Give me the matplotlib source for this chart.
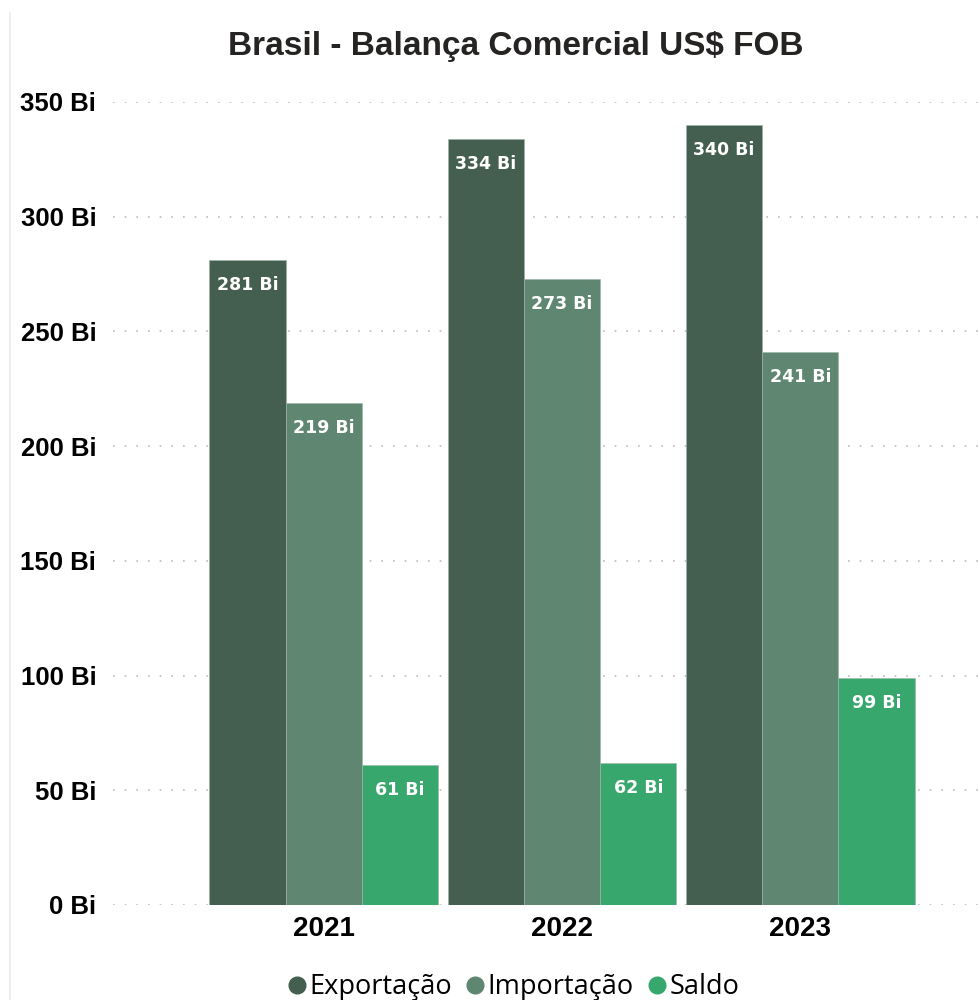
import matplotlib
matplotlib.use("Agg")
import matplotlib.pyplot as plt
import numpy as np
from matplotlib.lines import Line2D

years = ["2021", "2022", "2023"]
series_names = ["Exportação", "Importação", "Saldo"]
exportacao = [281, 334, 340]
importacao = [219, 273, 241]
saldo = [61, 62, 99]
yticks = [0, 50, 100, 150, 200, 250, 300, 350]
colors = ["#445F50", "#5E8670", "#38A76D"]

fig = plt.figure(figsize=(9.79, 10), dpi=100)
ax = fig.add_axes([113/979, 0.095, 1 - 113/979, 0.803])

x = np.arange(len(years))
w = 0.32
data = [exportacao, importacao, saldo]
for i, (vals, c, name) in enumerate(zip(data, colors, series_names)):
    pos = x + (i - 1) * w
    bars = ax.bar(pos, vals, width=w, color=c, edgecolor="#9fb5a8", linewidth=0.4, label=name, zorder=3)
    for b, v in zip(bars, vals):
        ax.annotate(f"{v} Bi", (b.get_x() + b.get_width()/2, v), xytext=(0, -18),
                    textcoords="offset points", ha="center", va="center",
                    color="white", fontweight="bold", fontsize=12.5, family="DejaVu Sans", zorder=4)

ax.set_xlim(-0.885, 2.75)
ax.set_ylim(0, 350)
ax.set_yticks(yticks)
ax.set_yticklabels([f"{t} Bi" for t in yticks], fontsize=18.5, fontweight="bold",
                   family="Liberation Sans")
ax.set_xticks(x)
ax.set_xticklabels(years, fontsize=20, fontweight="bold", family="Liberation Sans")
ax.tick_params(axis="y", length=0, pad=12)
ax.tick_params(axis="x", length=0, pad=8)
for s in ax.spines.values():
    s.set_visible(False)
ax.grid(axis="y", linestyle=(0, (1, 6)), color="#BBBBBB", linewidth=1.2, zorder=0)
ax.set_axisbelow(True)

fig.text(0.5266, 0.954, "Brasil - Balança Comercial US$ FOB", ha="center", va="center",
         fontsize=24, fontweight="bold", family="Liberation Sans", color="#252423")

fig.add_artist(Line2D([10/979, 10/979], [0, 0.987], color="#EAEAEA", linewidth=1.2))

handles = [Line2D([], [], marker="o", linestyle="", markersize=12, color=c) for c in colors]
fig.legend(handles, series_names, loc="center", bbox_to_anchor=(0.523, 0.013), ncol=3,
           frameon=False, prop={"family": "Open Sans", "size": 19.5}, handletextpad=0.02,
           columnspacing=0.4, handlelength=0.9)

fig.savefig("out.png", dpi=100)
